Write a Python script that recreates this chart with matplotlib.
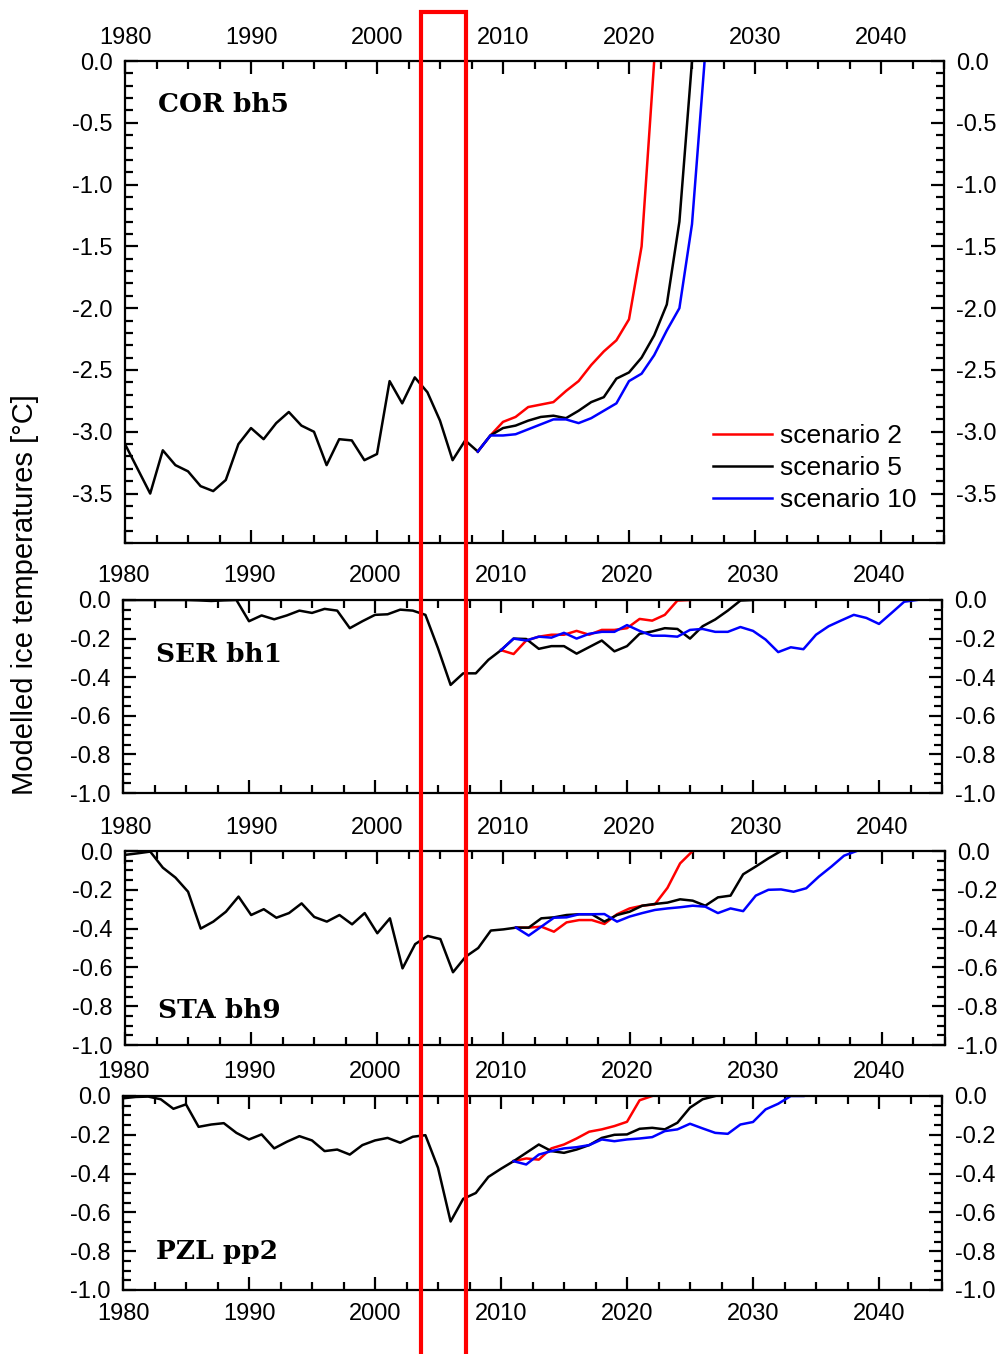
import numpy as np
import matplotlib
matplotlib.use("Agg")
from matplotlib import pyplot as plt
from matplotlib.ticker import MultipleLocator, FormatStrFormatter
from matplotlib.patches import Rectangle
from matplotlib.transforms import blended_transform_factory

plt.rcParams['font.family'] = ['Liberation Sans', 'DejaVu Sans']
plt.rcParams['axes.unicode_minus'] = False

# ---- data ----
labels = ["COR bh5", "SER bh1", "STA bh9", "PZL pp2"]
scenario_names = ["scenario 2", "scenario 5", "scenario 10"]

# COR bh5
cor_hist = [-3.10, -3.30, -3.50, -3.15, -3.27, -3.32, -3.44, -3.48, -3.39, -3.10,
            -2.97, -3.06, -2.93, -2.84, -2.95, -3.00, -3.27, -3.06, -3.07, -3.23,
            -3.18, -2.59, -2.77, -2.56, -2.68, -2.91, -3.23, -3.07, -3.16]
cor_start = 2008
cor_s2 = [-3.16, -3.03, -2.92, -2.88, -2.80, -2.78, -2.76, -2.67, -2.59, -2.46,
          -2.35, -2.26, -2.09, -1.50, 0.0]
cor_s5 = [-3.16, -3.03, -2.97, -2.95, -2.91, -2.88, -2.87, -2.89, -2.83, -2.76,
          -2.72, -2.57, -2.52, -2.40, -2.22, -1.97, -1.30, 0.0]
cor_s10 = [-3.16, -3.03, -3.03, -3.02, -2.98, -2.94, -2.90, -2.90, -2.93, -2.89,
           -2.83, -2.77, -2.59, -2.53, -2.38, -2.18, -2.00, -1.32, 0.0]

# SER bh1
ser_hist = [0.0, 0.0, 0.0, 0.0, 0.0, 0.0, -0.002, -0.005, -0.002, 0.0,
            -0.11, -0.08, -0.10, -0.08, -0.055, -0.067, -0.046, -0.055, -0.146, -0.11,
            -0.077, -0.074, -0.05, -0.055, -0.077, -0.25, -0.44, -0.38, -0.38, -0.31,
            -0.26]
ser_start = 2010
ser_s2 = [-0.26, -0.28, -0.21, -0.19, -0.18, -0.18, -0.16, -0.18, -0.155, -0.155,
          -0.146, -0.098, -0.107, -0.077, -0.003, 0.0]
ser_s5 = [-0.26, -0.20, -0.202, -0.253, -0.239, -0.239, -0.278, -0.244, -0.21, -0.266,
          -0.239, -0.175, -0.163, -0.146, -0.15, -0.20, -0.136, -0.101, -0.055, -0.003,
          0.0]
ser_s10 = [-0.26, -0.20, -0.21, -0.19, -0.195, -0.17, -0.20, -0.175, -0.165, -0.165,
           -0.13, -0.16, -0.185, -0.185, -0.19, -0.155, -0.15, -0.165, -0.165, -0.14,
           -0.16, -0.205, -0.27, -0.245, -0.255, -0.18, -0.136, -0.106, -0.077, -0.093,
           -0.124, -0.067, -0.009, 0.0]

# STA bh9
sta_hist = [-0.02, -0.012, -0.003, -0.086, -0.137, -0.21, -0.40, -0.364, -0.313, -0.235,
            -0.33, -0.30, -0.344, -0.32, -0.27, -0.34, -0.364, -0.33, -0.378, -0.32,
            -0.424, -0.347, -0.605, -0.48, -0.438, -0.454, -0.625, -0.545, -0.50, -0.41,
            -0.404, -0.395]
sta_start = 2011
sta_s2 = [-0.395, -0.395, -0.39, -0.416, -0.368, -0.356, -0.356, -0.376, -0.326,
          -0.296, -0.282, -0.275, -0.19, -0.064, 0.0]
sta_s5 = [-0.395, -0.395, -0.347, -0.342, -0.33, -0.326, -0.326, -0.364, -0.33,
          -0.313, -0.282, -0.273, -0.266, -0.249, -0.256, -0.282, -0.239, -0.23, -0.12,
          -0.08, -0.038, 0.0]
sta_s10 = [-0.395, -0.436, -0.39, -0.344, -0.342, -0.326, -0.326, -0.325, -0.364,
           -0.338, -0.32, -0.304, -0.296, -0.29, -0.282, -0.287, -0.32, -0.296, -0.31,
           -0.23, -0.20, -0.198, -0.21, -0.192, -0.132, -0.08, -0.024, 0.0]

# PZL pp2
pzl_hist = [-0.012, -0.005, -0.003, -0.017, -0.066, -0.043, -0.159, -0.147, -0.14, -0.19,
            -0.224, -0.198, -0.27, -0.236, -0.207, -0.229, -0.284, -0.276, -0.302, -0.253,
            -0.229, -0.216, -0.241, -0.21, -0.202, -0.37, -0.647, -0.53, -0.50, -0.417,
            -0.375, -0.336]
pzl_start = 2011
pzl_s2 = [-0.336, -0.322, -0.328, -0.27, -0.25, -0.219, -0.184, -0.172, -0.155,
          -0.133, -0.022, 0.0]
pzl_s5 = [-0.336, -0.293, -0.25, -0.284, -0.293, -0.276, -0.253, -0.216, -0.20,
          -0.198, -0.169, -0.164, -0.172, -0.138, -0.06, -0.017, 0.0]
pzl_s10 = [-0.336, -0.353, -0.302, -0.284, -0.27, -0.264, -0.253, -0.224, -0.233,
           -0.224, -0.219, -0.212, -0.181, -0.172, -0.143, -0.167, -0.19, -0.195, -0.147,
           -0.134, -0.069, -0.04, 0.0, 0.0]

hist_start = 1980
highlight_years = (2003.5, 2007.05)

panels = [
    (cor_hist, cor_start, [cor_s2, cor_s5, cor_s10]),
    (ser_hist, ser_start, [ser_s2, ser_s5, ser_s10]),
    (sta_hist, sta_start, [sta_s2, sta_s5, sta_s10]),
    (pzl_hist, pzl_start, [pzl_s2, pzl_s5, pzl_s10]),
]
colors = ["#ff0000", "#000000", "#0000ff"]

W, H = 1002, 1354
fig = plt.figure(figsize=(W / 100, H / 100), dpi=100)

# axes boxes in pixels: left, top, right, bottom
boxes = [(125, 61, 944, 543), (123, 600, 942, 793), (125, 851, 945, 1045), (123, 1096, 942, 1290)]
label_pos = [(0.04, 0.91), (0.04, 0.72), (0.04, 0.18), (0.04, 0.20)]

axes = []
for i, ((hist, start, scen), box) in enumerate(zip(panels, boxes)):
    l, t, r, b = box
    ax = fig.add_axes([l / W, 1 - b / H, (r - l) / W, (b - t) / H])
    axes.append(ax)

    ax.plot(np.arange(hist_start, hist_start + len(hist)), hist, color="black", lw=1.8)
    for vals, c, name in zip(scen, colors, scenario_names):
        ax.plot(np.arange(start, start + len(vals)), vals, color=c, lw=1.8, label=name)

    ax.set_xlim(1980, 2045)
    ax.xaxis.set_major_locator(MultipleLocator(10))
    ax.xaxis.set_minor_locator(MultipleLocator(2.5))
    if i == 0:
        ax.set_ylim(-3.9, 0)
        ax.yaxis.set_major_locator(MultipleLocator(0.5))
        ax.yaxis.set_minor_locator(MultipleLocator(0.1))
    else:
        ax.set_ylim(-1.0, 0)
        ax.yaxis.set_major_locator(MultipleLocator(0.2))
        ax.yaxis.set_minor_locator(MultipleLocator(0.05))
    ax.yaxis.set_major_formatter(FormatStrFormatter('%.1f'))

    ax.tick_params(which='both', direction='in', top=True, right=True, width=1.6,
                   labeltop=True, labelbottom=(i == 3), labelleft=True, labelright=True,
                   labelsize=17, pad=9)
    ax.tick_params(which='major', length=9.5)
    ax.tick_params(which='minor', length=5.5)
    for sp in ax.spines.values():
        sp.set_linewidth(1.6)

    ax.text(label_pos[i][0], label_pos[i][1], labels[i], transform=ax.transAxes,
            family='DejaVu Serif', fontweight='bold', fontsize=19, va='center', ha='left')

    if i == 0:
        ax.legend(loc='upper left', bbox_to_anchor=(0.718, 0.247), frameon=False, fontsize=19,
                  handlelength=2.25, handletextpad=0.3, labelspacing=0.3, borderpad=0,
                  borderaxespad=0)

fig.text(0.025, 1 - 595 / H, "Modelled ice temperatures [°C]", rotation=90,
         fontsize=21, va='center', ha='center')

# red highlight box spanning all panels
trans = blended_transform_factory(axes[0].transData, fig.transFigure)
rect = Rectangle((highlight_years[0], -0.05), highlight_years[1] - highlight_years[0], 1 - 12 / H + 0.05,
                 transform=trans, fill=False, edgecolor="#ff0000", lw=3, zorder=10, clip_on=False)
fig.add_artist(rect)

fig.savefig("out.png", dpi=100, facecolor="white")
